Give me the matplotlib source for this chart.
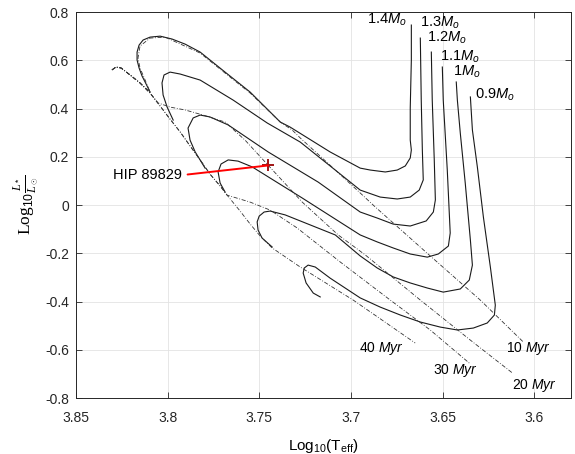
import matplotlib
matplotlib.use("Agg")
import matplotlib.pyplot as plt

plt.rcParams['font.family'] = 'Liberation Sans'
plt.rcParams['mathtext.fontset'] = 'custom'
plt.rcParams['mathtext.rm'] = 'Liberation Sans'
plt.rcParams['mathtext.it'] = 'Liberation Sans:italic'
plt.rcParams['mathtext.cal'] = 'Liberation Serif:italic'

# evolutionary tracks (log Teff, log L/Lsun)
t14_T = [3.6671, 3.6671, 3.6677, 3.6677, 3.6671, 3.6677, 3.6704, 3.6748, 3.6813, 3.6895, 3.6950, 3.7114,
         3.7332, 3.7386, 3.7550, 3.7687, 3.7823, 3.7905, 3.7976, 3.8041, 3.8096, 3.8134, 3.8156, 3.8167,
         3.8167, 3.8156, 3.8140, 3.8118, 3.8096]
t14_L = [0.746, 0.601, 0.402, 0.269, 0.228, 0.195, 0.162, 0.145, 0.137, 0.145, 0.153, 0.220,
         0.323, 0.344, 0.468, 0.551, 0.634, 0.667, 0.688, 0.700, 0.696, 0.684, 0.663, 0.634,
         0.601, 0.568, 0.535, 0.502, 0.468]

t13_T = [3.6622, 3.6617, 3.6611, 3.6606, 3.6628, 3.6677, 3.6748, 3.6841, 3.6950, 3.7114, 3.7277,
         3.7457, 3.7643, 3.7823, 3.7932, 3.7987, 3.8020, 3.8031, 3.8025, 3.8003, 3.7970]
t13_L = [0.692, 0.435, 0.228, 0.104, 0.062, 0.033, 0.025, 0.033, 0.062, 0.162, 0.261,
         0.340, 0.435, 0.518, 0.543, 0.551, 0.539, 0.506, 0.456, 0.406, 0.352]

t12_T = [3.6562, 3.6557, 3.6546, 3.6540, 3.6551, 3.6590, 3.6677, 3.6770, 3.6857, 3.6950,
         3.7179, 3.7452, 3.7670, 3.7769, 3.7823, 3.7861, 3.7889, 3.7878, 3.7850, 3.7796]
t12_L = [0.634, 0.435, 0.187, 0.021, -0.029, -0.066, -0.087, -0.079, -0.054, -0.029,
         0.095, 0.220, 0.332, 0.365, 0.373, 0.361, 0.319, 0.269, 0.220, 0.153]

t11_T = [3.6502, 3.6497, 3.6475, 3.6459, 3.6469, 3.6524, 3.6584, 3.6677, 3.6770, 3.6857,
         3.6950, 3.7266, 3.7539, 3.7616, 3.7670, 3.7709, 3.7725, 3.7714, 3.7687]
t11_L = [0.572, 0.435, 0.145, -0.116, -0.170, -0.203, -0.216, -0.203, -0.178, -0.153,
         -0.124, 0.029, 0.158, 0.182, 0.187, 0.170, 0.137, 0.091, 0.054]

t10_T = [3.6426, 3.6420, 3.6404, 3.6377, 3.6349, 3.6338, 3.6355, 3.6404, 3.6497, 3.6584, 3.6677, 3.6770,
         3.6857, 3.6950, 3.7086, 3.7359, 3.7441, 3.7474, 3.7501, 3.7512, 3.7507, 3.7485, 3.7430]
t10_L = [0.510, 0.435, 0.298, 0.091, -0.145, -0.249, -0.311, -0.348, -0.361, -0.344, -0.323, -0.298,
         -0.261, -0.211, -0.124, -0.041, -0.025, -0.029, -0.046, -0.070, -0.104, -0.137, -0.174]

t09_T = [3.6349, 3.6338, 3.6311, 3.6278, 3.6240, 3.6213, 3.6218, 3.6257, 3.6333, 3.6420, 3.6513, 3.6622,
         3.6731, 3.6841, 3.6950, 3.7114, 3.7195, 3.7234, 3.7255, 3.7261, 3.7245, 3.7206, 3.7168]
t09_L = [0.448, 0.311, 0.158, -0.050, -0.257, -0.415, -0.456, -0.489, -0.510, -0.518, -0.506, -0.485,
         -0.456, -0.423, -0.385, -0.303, -0.257, -0.249, -0.261, -0.282, -0.323, -0.365, -0.381]

mass_labels = ['1.4$M_o$', '1.3$M_o$', '1.2$M_o$', '1.1$M_o$', '1$M_o$', '0.9$M_o$']
mass_label_T = [3.6912, 3.6622, 3.6584, 3.6513, 3.6442, 3.6322]
mass_label_L = [0.767, 0.754, 0.692, 0.613, 0.551, 0.456]

# isochrones
iso10_T = [3.8304, 3.8282, 3.8254, 3.8205, 3.8151, 3.8096, 3.8123, 3.8151, 3.8162, 3.8151, 3.8096,
           3.8014, 3.7823, 3.7687, 3.7550, 3.7386, 3.7321, 3.7277, 3.7097, 3.6950, 3.6868, 3.6568,
           3.6295, 3.6060]
iso10_L = [0.560, 0.572, 0.568, 0.539, 0.506, 0.468, 0.518, 0.568, 0.609, 0.659, 0.692,
           0.696, 0.630, 0.547, 0.464, 0.344, 0.311, 0.278, 0.153, 0.050, -0.008, -0.211,
           -0.394, -0.568]

iso20_T = [3.8304, 3.8282, 3.8254, 3.8205, 3.8151, 3.8096, 3.8052, 3.7987, 3.7905, 3.7807, 3.7687,
           3.7578, 3.7468, 3.7266, 3.7070, 3.6922, 3.6622, 3.6349, 3.6120]
iso20_L = [0.560, 0.572, 0.568, 0.539, 0.506, 0.464, 0.423, 0.406, 0.394, 0.373, 0.344,
           0.269, 0.178, 0.012, -0.124, -0.207, -0.394, -0.560, -0.696]

iso30_T = [3.8304, 3.8282, 3.8254, 3.8205, 3.8151, 3.8096, 3.8041, 3.7987, 3.7932, 3.7878, 3.7823,
           3.7769, 3.7714, 3.7676, 3.7550, 3.7441, 3.7294, 3.7059, 3.6786, 3.6568, 3.6349]
iso30_L = [0.560, 0.572, 0.568, 0.539, 0.506, 0.464, 0.410, 0.356, 0.303, 0.245, 0.187,
           0.128, 0.079, 0.041, 0.012, -0.021, -0.095, -0.236, -0.394, -0.518, -0.659]

iso40_T = [3.8304, 3.8282, 3.8254, 3.8205, 3.8151, 3.8096, 3.8041, 3.7987, 3.7932, 3.7878, 3.7823,
           3.7769, 3.7714, 3.7676, 3.7605, 3.7550, 3.7496, 3.7452, 3.7430, 3.7277, 3.6988, 3.6650]
iso40_L = [0.560, 0.572, 0.568, 0.539, 0.506, 0.464, 0.410, 0.356, 0.303, 0.245, 0.187,
           0.128, 0.079, 0.041, -0.025, -0.079, -0.128, -0.162, -0.178, -0.257, -0.394, -0.572]

iso_labels = ['10 $Myr$', '20 $Myr$', '30 $Myr$', '40 $Myr$']
iso_label_T = [3.6153, 3.6120, 3.6551, 3.6955]
iso_label_L = [-0.593, -0.750, -0.684, -0.593]

star_name = 'HIP 89829'
star_T = 3.7452
star_L = 0.164
star_label_T = 3.8298
star_label_L = 0.124

xticks = [3.6, 3.65, 3.7, 3.75, 3.8, 3.85]
xticklabels = ['3.6', '3.65', '3.7', '3.75', '3.8', '3.85']
yticks = [-0.8, -0.6, -0.4, -0.2, 0, 0.2, 0.4, 0.6, 0.8]
yticklabels = ['-0.8', '-0.6', '-0.4', '-0.2', '0', '0.2', '0.4', '0.6', '0.8']

fig = plt.figure(figsize=(5.75, 4.54), dpi=100)
ax = fig.add_axes([0.1322, 0.1233, 0.8609, 0.8502])

# tracks
for T, L in [(t14_T, t14_L), (t13_T, t13_L), (t12_T, t12_L),
             (t11_T, t11_L), (t10_T, t10_L), (t09_T, t09_L)]:
    ax.plot(T, L, color='#1a1a1a', lw=0.8, solid_joinstyle='round')

for lab, x, y in zip(mass_labels, mass_label_T, mass_label_L):
    ax.text(x, y, lab, fontsize=10.5, ha='left', va='center')

# isochrones
for T, L in [(iso10_T, iso10_L), (iso20_T, iso20_L), (iso30_T, iso30_L), (iso40_T, iso40_L)]:
    ax.plot(T, L, color='#333333', lw=0.6, linestyle=(0, (5, 2, 1, 2)))

for lab, x, y in zip(iso_labels, iso_label_T, iso_label_L):
    ax.text(x, y, lab, fontsize=10, ha='left', va='center')

# the star
ax.plot(star_T, star_L, '+', color='#a01515', ms=9, mew=1.4)
ax.annotate(star_name, xy=(star_T, star_L), xytext=(star_label_T, star_label_L),
            fontsize=10.5, ha='left', va='center',
            arrowprops=dict(arrowstyle='-', color='red', lw=1.4, relpos=(1, 0.5),
                            shrinkA=2, shrinkB=0))

ax.set_xlim(3.85, 3.58)
ax.set_ylim(-0.8, 0.8)
ax.set_xticks(xticks)
ax.set_xticklabels(xticklabels)
ax.set_yticks(yticks)
ax.set_yticklabels(yticklabels)
ax.tick_params(direction='in', top=True, right=True, length=4, width=0.6,
               labelsize=10, colors='#262626')
ax.tick_params(axis='x', pad=9)
ax.tick_params(axis='y', pad=5)
for s in ax.spines.values():
    s.set_linewidth(0.7)
    s.set_color('#262626')
ax.grid(True, color='#e3e3e3', lw=0.6)
ax.set_axisbelow(True)

ax.set_xlabel(r'Log$_{10}$(T$_{\rm eff}$)', fontsize=11, labelpad=9)
ax.set_ylabel(r'Log$_{10}\frac{\mathcal{L}_*}{\mathcal{L}_\odot}$', fontsize=12.5,
              family='Liberation Serif', labelpad=3)

fig.savefig('out.png', dpi=100)
